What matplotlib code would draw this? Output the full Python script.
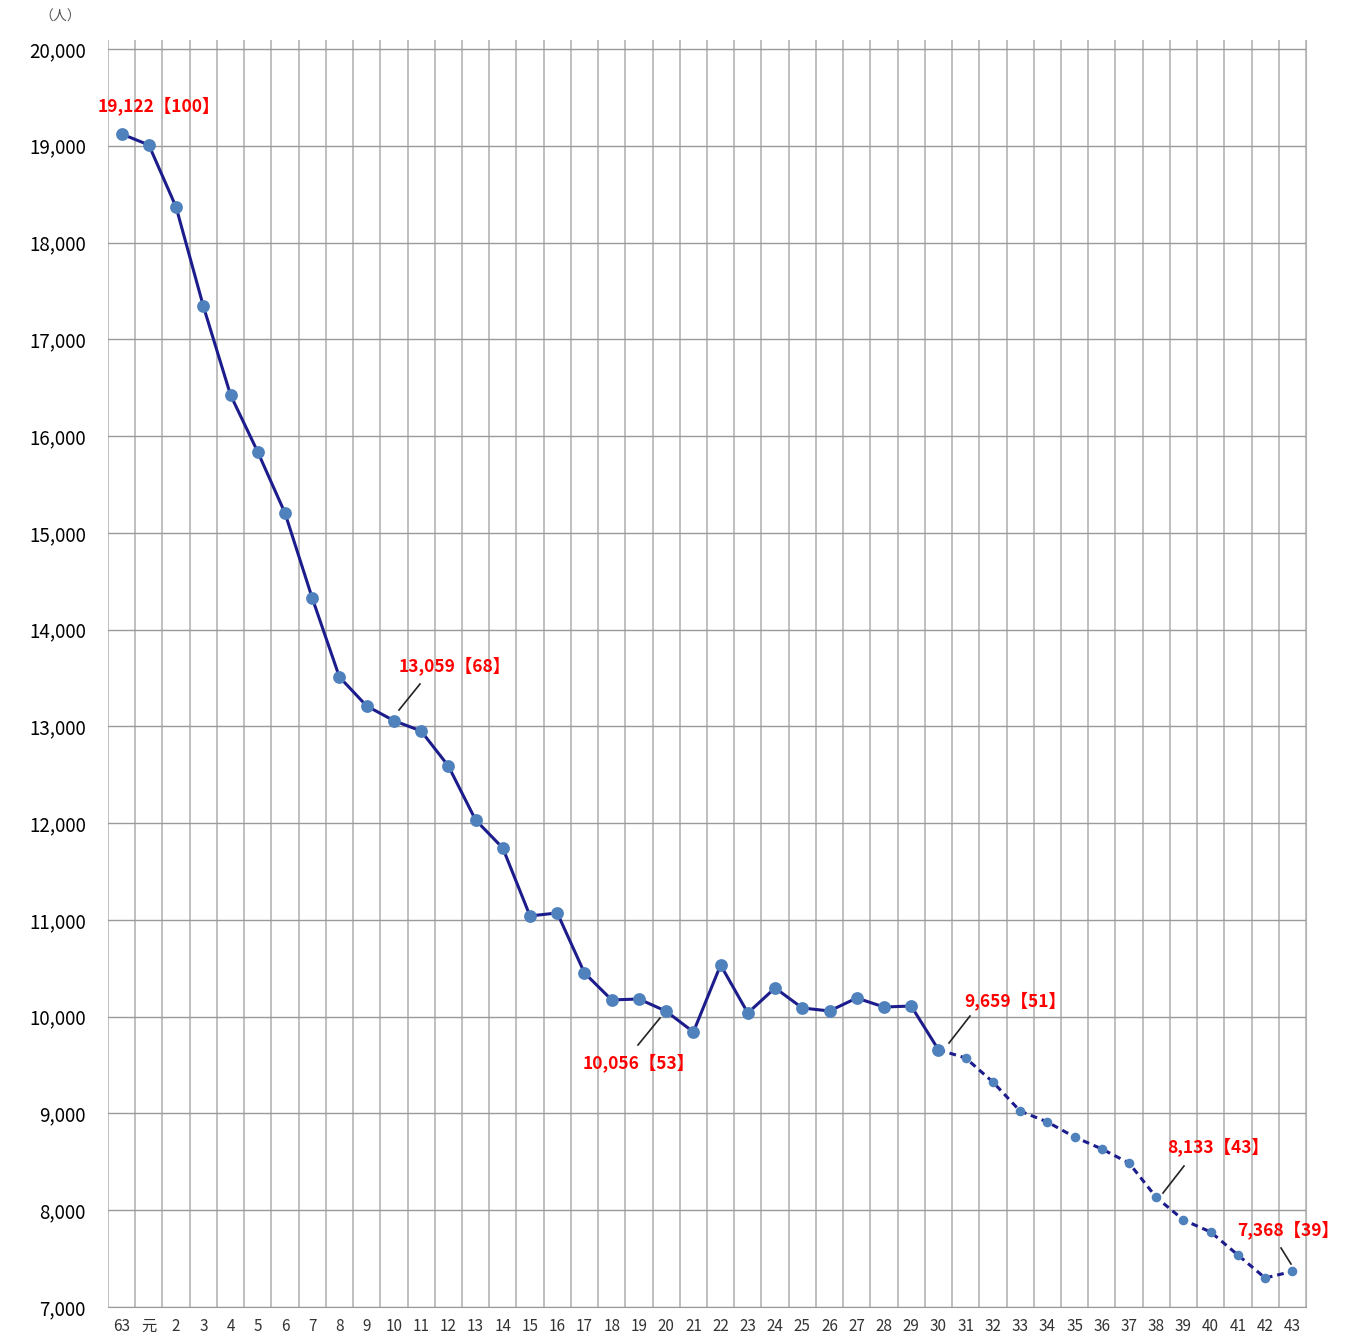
import matplotlib
matplotlib.use("Agg")
import matplotlib.pyplot as plt
import numpy as np

plt.rcParams['font.family'] = ['Noto Sans CJK JP', 'DejaVu Sans']

categories = ["63", "元"] + [str(i) for i in range(2, 44)]
values = [19122, 19008, 18367, 17344, 16425, 15836, 15205, 14327, 13510, 13211,
          13059, 12952, 12591, 12033, 11743, 11041, 11072, 10452, 10173, 10183,
          10056, 9842, 10534, 10038, 10297, 10090, 10059, 10193, 10100, 10110,
          9659, 9573, 9325, 9025, 8912, 8757, 8633, 8488, 8133, 7899,
          7775, 7537, 7300, 7368]
actual_end = "30"  # last actual value; dashed projection afterwards

labels_idx = ["63", "10", "20", "30", "38", "43"]
labels_text = ["19,122【100】", "13,059【68】", "10,056【53】", "9,659【51】",
               "8,133【43】", "7,368【39】"]

W, H = 1353, 1337
fig = plt.figure(figsize=(W / 100, H / 100), dpi=100)
ax = fig.add_axes([108 / W, 1 - 1307 / H, (1306 - 108) / W, (1307 - 40) / H])

x = np.arange(len(categories))
split = categories.index(actual_end)
line_c = "#1c1c8c"
mk_c = "#4f81bd"

ax.plot(x[:split + 1], values[:split + 1], color=line_c, lw=2.2, zorder=3)
ax.plot(x[split:], values[split:], color=line_c, lw=2.2, ls=(0, (2.2, 1.6)), zorder=3)
ax.scatter(x[:split + 1], values[:split + 1], s=85, color=mk_c, zorder=4, lw=0)
ax.scatter(x[split + 1:], values[split + 1:], s=48, color=mk_c, zorder=4, lw=0)

ax.set_xlim(-0.5, len(categories) - 0.5)
ax.set_ylim(7000, 7000 + (1307 - 40) / 0.09677)
ax.set_yticks(np.arange(7000, 20001, 1000))
ax.set_yticklabels([f"{v:,}" for v in range(7000, 20001, 1000)], fontsize=13.5)
ax.set_xticks(x)
ax.set_xticklabels(categories, fontsize=11, color="#333333")
ax.set_xticks(np.arange(-0.5, len(categories)), minor=True)
ax.tick_params(axis="both", which="both", length=0)
ax.tick_params(axis="y", pad=16)
ax.tick_params(axis="x", pad=8)

ax.grid(True, which="minor", axis="x", color="#b4b4b4", lw=1.2)
ax.grid(True, which="major", axis="y", color="#9a9a9a", lw=1.0)
ax.grid(False, which="major", axis="x")
for s in ["top", "left"]:
    ax.spines[s].set_visible(False)
ax.spines["right"].set_color("#b4b4b4")
ax.spines["bottom"].set_color("#9a9a9a")
ax.set_axisbelow(True)

fig.text(60 / W, 1 - 17 / H, "（人）", fontsize=10, color="#555555", ha="center", va="center")

def px2data(px, py):
    xd = -0.5 + (px - 108) / ((1306 - 108) / len(categories))
    yd = 7000 + (1307 - py) / 0.09677
    return xd, yd

# annotation text centers (pixels) and leader lines (pixels)
text_pos = [(159, 106), (455, 666), (639, 1063), (1015, 1001), (1218, 1147), (1288, 1230)]
leaders = [None, ((420, 684), (399, 710)), ((638, 1045), (660, 1018)),
           ((970, 1016), (949, 1043)), ((1184, 1166), (1163, 1193)),
           ((1281, 1248), (1291, 1264))]
for lab, txt, tp, ld in zip(labels_idx, labels_text, text_pos, leaders):
    tx, ty = px2data(*tp)
    ax.text(tx, ty, txt, color="#ff0000", fontsize=12.5, fontweight="bold",
            ha="center", va="center", clip_on=False, zorder=5)
    if ld is not None:
        (x0, y0), (x1, y1) = ld
        a0 = px2data(x0, y0)
        a1 = px2data(x1, y1)
        ax.plot([a0[0], a1[0]], [a0[1], a1[1]], color="#222222", lw=1.2, zorder=5, clip_on=False)

fig.savefig("out.png", dpi=100, facecolor="white")
